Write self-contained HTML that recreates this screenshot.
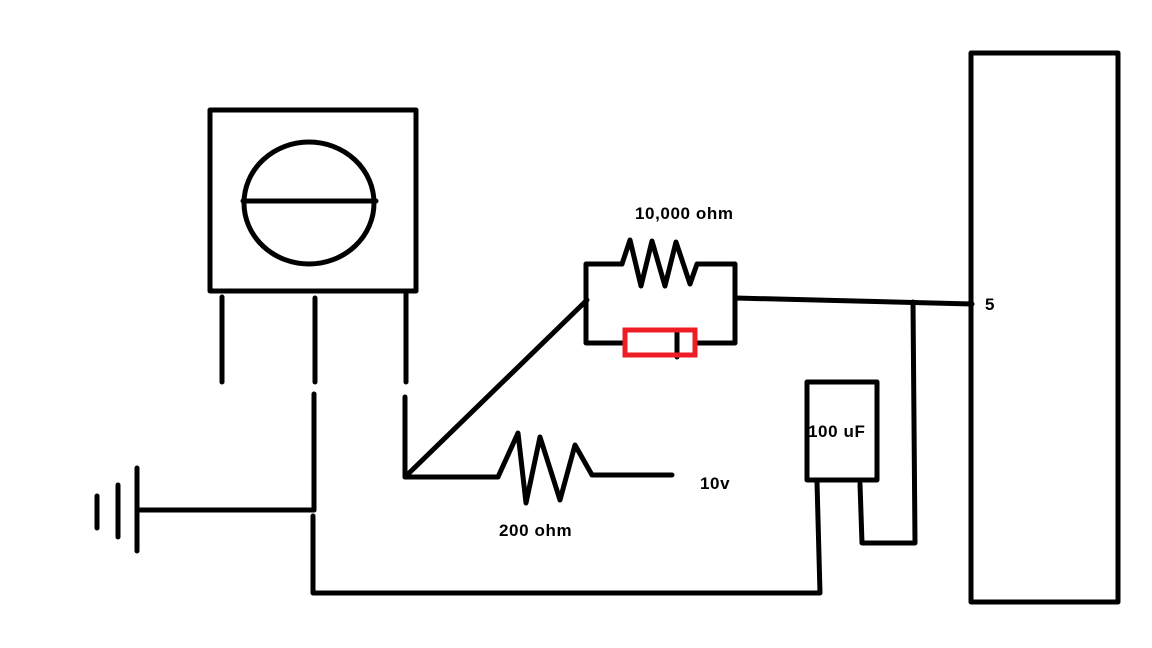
<!DOCTYPE html>
<html><head><style>
html,body{margin:0;padding:0;background:#fff;}
svg{display:block;}
text{font-family:"Liberation Sans",sans-serif;font-weight:bold;font-size:17px;letter-spacing:0.6px;fill:#000;}
</style></head><body>
<svg width="1152" height="648" viewBox="0 0 1152 648" xmlns="http://www.w3.org/2000/svg">
<g fill="none" stroke="#000" stroke-width="5" stroke-linecap="round" stroke-linejoin="round">
<rect x="210" y="110" width="206" height="181"/>
<ellipse cx="309" cy="203" rx="65" ry="61"/>
<line x1="243" y1="201" x2="376" y2="201"/>
<line x1="222" y1="297" x2="222" y2="382"/>
<line x1="315" y1="298" x2="315" y2="382"/>
<line x1="406" y1="294" x2="406" y2="382"/>
<line x1="314" y1="394" x2="314" y2="510"/>
<line x1="138" y1="510" x2="314" y2="510"/>
<line x1="137" y1="468" x2="137" y2="551"/>
<line x1="118" y1="485" x2="118" y2="537"/>
<line x1="97" y1="496" x2="97" y2="528"/>
<polyline points="313,516 313,593 820,593 817,482"/>
<polyline points="405,397 405,477 498,477 518,433 526,503 540,437 560,500 575,445 592,475 672,475"/>
<line x1="405" y1="477" x2="587" y2="300"/>
<polyline points="622,264 586,264 586,343 624,343"/>
<polyline points="622,264 630,240 641,286 652,241 665,286 676,242 690,284 697,264 735,264 735,343 696,343"/>
<line x1="735" y1="298" x2="972" y2="304"/>
<line x1="677" y1="332" x2="677" y2="357"/>
<rect x="807" y="382" width="70" height="98"/>
<polyline points="860,484 862,543 915,543 913,302"/>
<rect x="971" y="53" width="147" height="549"/>
</g>
<rect x="625" y="330" width="70" height="25" fill="none" stroke="#ee1c24" stroke-width="5"/>
<text x="635" y="219">10,000 ohm</text>
<text x="499" y="536">200 ohm</text>
<text x="700" y="489">10v</text>
<text x="808" y="437">100 uF</text>
<text x="985" y="310">5</text>
</svg>
</body></html>
